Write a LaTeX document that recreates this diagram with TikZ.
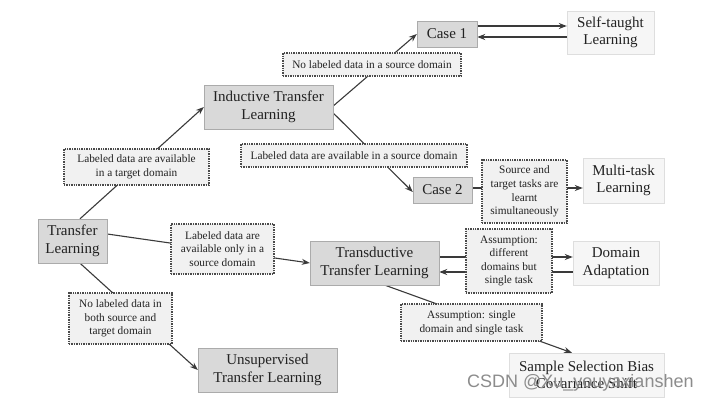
\documentclass[tikz,border=0pt]{standalone}
\usepackage{fontspec}
\setmainfont{Liberation Serif}
\newfontfamily\wmfont{Liberation Sans}
\usetikzlibrary{arrows.meta,backgrounds}
\definecolor{boxgray}{HTML}{D9D9D9}
\definecolor{boxline}{HTML}{ABABAB}
\definecolor{resgray}{HTML}{F6F6F6}
\definecolor{resline}{HTML}{DEDEDE}
\definecolor{labgray}{HTML}{F1F1F1}
\definecolor{labline}{HTML}{4A4A4A}
\definecolor{ink}{HTML}{222222}
\definecolor{wire}{HTML}{3A3A3A}
\tikzset{
  mainbox/.style={draw=boxline,fill=boxgray,text=ink,align=center,inner sep=1pt,
    font=\fontsize{15}{17.5}\selectfont},
  resbox/.style={draw=resline,fill=resgray,text=ink,align=center,inner sep=1pt,
    font=\fontsize{15}{17.5}\selectfont},
  condbox/.style={draw=labline,densely dotted,line width=1.4pt,fill=labgray,text=ink,
    align=center,inner sep=1pt,font=\fontsize{11.3}{13.6}\selectfont},
  link/.style={draw=wire,line width=1.1pt,-{Stealth[length=8pt,width=6pt]}},
  plainlink/.style={draw=wire,line width=1.1pt}
}
\begin{document}
\begin{tikzpicture}[x=1pt,y=-1pt]
  \useasboundingbox (0,0) rectangle (713,405);
  \node[mainbox,minimum width=69,minimum height=44] (tl) at (72.5,241) {Transfer\\Learning};
  \node[mainbox,minimum width=129,minimum height=44] (itl) at (268.5,107) {Inductive Transfer\\Learning};
  \node[mainbox,minimum width=129,minimum height=44] (ttl) at (374.5,263) {Transductive\\Transfer Learning};
  \node[mainbox,minimum width=139,minimum height=44] (utl) at (267.5,370) {Unsupervised\\Transfer Learning};
  \node[mainbox,minimum width=60,minimum height=26] (case1) at (447,34) {Case 1};
  \node[mainbox,minimum width=59,minimum height=26] (case2) at (442.5,190) {Case 2};
  \node[resbox,minimum width=87,minimum height=43] (stl) at (610.5,32.5) {Self-taught\\Learning};
  \node[resbox,minimum width=81,minimum height=45] (mtl) at (623.5,180.5) {Multi-task\\Learning};
  \node[resbox,minimum width=86,minimum height=44] (da) at (616,263) {Domain\\Adaptation};
  \node[resbox,minimum width=155,minimum height=44] (ssb) at (586.5,375) {Sample Selection Bias\\Covariance Shift};
  \node[condbox,minimum width=145,minimum height=36] (cTarget) at (136.5,167) {Labeled data are available\\in a target domain};
  \node[condbox,minimum width=178,minimum height=23] (cNoSrc) at (372,64.5) {No labeled data in a source domain};
  \node[condbox,minimum width=226,minimum height=23] (cSrc) at (354,155.5) {Labeled data are available in a source domain};
  \node[condbox,minimum width=85,minimum height=63] (cTasks) at (524.5,191.5) {Source and\\target tasks are\\learnt\\simultaneously};
  \node[condbox,minimum width=103,minimum height=50] (cOnlySrc) at (222.5,249) {Labeled data are\\available only in a\\source domain};
  \node[condbox,minimum width=86,minimum height=64] (cDiff) at (509,261) {Assumption:\\different\\domains but\\single task};
  \node[condbox,minimum width=103,minimum height=51] (cNone) at (120.5,318.5) {No labeled data in\\both source and\\target domain};
  \node[condbox,minimum width=141,minimum height=37] (cSingle) at (471.5,322.5) {Assumption: single\\domain and single task};
  \node[anchor=west,text=black!45,font=\wmfont\fontsize{18}{20}\selectfont,inner sep=0pt] (wm) at (467,383) {CSDN @Xu\_youyaxianshen};
  \begin{scope}[on background layer]
    \draw[link] ([xshift=7.5pt]tl.north) -- (itl.west);
    \draw[link] ([yshift=1pt]itl.east) -- (case1.west);
    \draw[link] ([yshift=-6pt]itl.east) -- ([yshift=-2pt]case2.west);
    \draw[link] ([yshift=8pt]case1.east) -- ([yshift=6.5pt]stl.west);
    \draw[link] ([yshift=-4.5pt]stl.west) -- ([yshift=-3pt]case1.east);
    \draw[link] ([yshift=2pt]case2.east) -- ([yshift=-7.5pt]mtl.west);
    \draw[link] ([yshift=7pt]tl.east) -- (ttl.west);
    \draw[link] ([yshift=6pt]ttl.east) -- ([yshift=6pt]da.west);
    \draw[link] ([yshift=-9pt]da.west) -- ([yshift=-9pt]ttl.east);
    \draw[link] ([xshift=7.5pt]tl.south) -- (utl.west);
    \draw[link] ([xshift=10.5pt]ttl.south) -- ([xshift=-14.5pt]ssb.north);
  \end{scope}
\end{tikzpicture}
\end{document}
